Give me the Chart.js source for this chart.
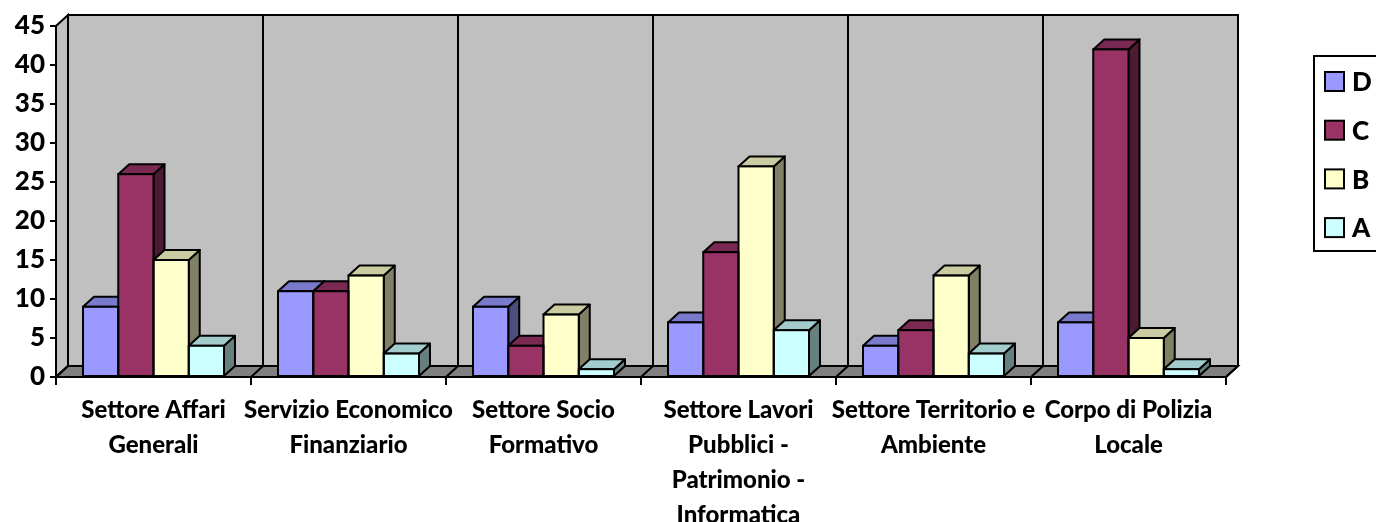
<!DOCTYPE html>
<html>
<head>
<meta charset="utf-8">
<script src="https://cdn.jsdelivr.net/npm/chart.js@4.4.1/dist/chart.umd.min.js"></script>
<style>
  html, body { margin: 0; padding: 0; background: #fff; }
  #wrap { width: 1376px; height: 522px; position: relative; }
</style>
</head>
<body>
<div id="wrap"><canvas id="chart" width="1376" height="522"></canvas></div>
<script>
// categorie (etichette asse x, già spezzate su più righe)
const categories = [
  ["Settore Affari", "Generali"],
  ["Servizio Economico", "Finanziario"],
  ["Settore Socio", "Formativo"],
  ["Settore Lavori", "Pubblici -", "Patrimonio -", "Informatica"],
  ["Settore Territorio e", "Ambiente"],
  ["Corpo di Polizia", "Locale"]
];

// serie
const seriesNames = ["D", "C", "B", "A"];
const valuesD = [9, 11, 9, 7, 4, 7];
const valuesC = [26, 11, 4, 16, 6, 42];
const valuesB = [15, 13, 8, 27, 13, 5];
const valuesA = [4, 3, 1, 6, 3, 1];
const seriesColors = ["#9999FF", "#993366", "#FFFFCC", "#CCFFFF"];

// asse y
const yMax = 45;
const yStep = 5;

const WALL_DX = 12, WALL_DY = 11;   // profondità pareti
const BAR_DX = 11, BAR_DY = 10;     // profondità barre

function shade(hex, k) {
  const n = parseInt(hex.slice(1), 16);
  const r = Math.round(((n >> 16) & 255) * k);
  const g = Math.round(((n >> 8) & 255) * k);
  const b = Math.round((n & 255) * k);
  return "rgb(" + r + "," + g + "," + b + ")";
}

function poly(ctx, pts, fill) {
  ctx.beginPath();
  ctx.moveTo(pts[0][0], pts[0][1]);
  for (let i = 1; i < pts.length; i++) ctx.lineTo(pts[i][0], pts[i][1]);
  ctx.closePath();
  if (fill) { ctx.fillStyle = fill; ctx.fill(); }
  ctx.stroke();
}

// pareti e pavimento 3D
const wallsPlugin = {
  id: "walls",
  beforeDraw(chart) {
    const ctx = chart.ctx;
    const a = chart.chartArea;
    const xs = chart.scales.x;
    const n = categories.length;
    const catW = (a.right - a.left) / n;
    ctx.save();
    ctx.strokeStyle = "#000";
    ctx.lineWidth = 2;
    ctx.lineJoin = "miter";
    // parete laterale
    poly(ctx, [[a.left, a.bottom], [a.left, a.top], [a.left + WALL_DX, a.top - WALL_DY], [a.left + WALL_DX, a.bottom - WALL_DY]], "#C0C0C0");
    // parete di fondo
    poly(ctx, [[a.left + WALL_DX, a.top - WALL_DY], [a.right + WALL_DX, a.top - WALL_DY], [a.right + WALL_DX, a.bottom - WALL_DY], [a.left + WALL_DX, a.bottom - WALL_DY]], "#C0C0C0");
    // pavimento
    poly(ctx, [[a.left, a.bottom], [a.right, a.bottom], [a.right + WALL_DX, a.bottom - WALL_DY], [a.left + WALL_DX, a.bottom - WALL_DY]], "#808080");
    // divisori categorie
    for (let i = 0; i <= n; i++) {
      const bx = xs.getPixelForValue(0) - catW / 2 + i * catW;
      ctx.beginPath();
      ctx.moveTo(bx, a.bottom);
      ctx.lineTo(bx + WALL_DX, a.bottom - WALL_DY);
      if (i > 0 && i < n) ctx.lineTo(bx + WALL_DX, a.top - WALL_DY);
      ctx.stroke();
    }
    ctx.restore();
  },
  beforeDatasetsDraw(chart) {
    // facce laterali e superiori, da sinistra a destra
    const ctx = chart.ctx;
    ctx.save();
    ctx.strokeStyle = "#000";
    ctx.lineWidth = 2;
    ctx.lineJoin = "round";
    for (let c = 0; c < categories.length; c++) {
      chart.data.datasets.forEach((ds, di) => {
        const el = chart.getDatasetMeta(di).data[c];
        const p = el.getProps(["x", "y", "base", "width"], true);
        const L = p.x - p.width / 2, R = p.x + p.width / 2;
        const top = p.y, bot = p.base;
        const col = seriesColors[di];
        poly(ctx, [[R, top], [R + BAR_DX, top - BAR_DY], [R + BAR_DX, bot - BAR_DY], [R, bot]], shade(col, 0.5));
        poly(ctx, [[L, top], [R, top], [R + BAR_DX, top - BAR_DY], [L + BAR_DX, top - BAR_DY]], shade(col, 0.8));
      });
    }
    ctx.restore();
  },
  afterDatasetsDraw(chart) {
    const ctx = chart.ctx;
    ctx.save();
    ctx.strokeStyle = "#000";
    ctx.lineWidth = 2;
    chart.data.datasets.forEach((ds, di) => {
      chart.getDatasetMeta(di).data.forEach(el => {
        const p = el.getProps(["x", "y", "base", "width"], true);
        ctx.strokeRect(p.x - p.width / 2, p.y, p.width, p.base - p.y);
      });
    });
    ctx.restore();
  },
  afterDraw(chart) {
    // legenda
    const ctx = chart.ctx;
    ctx.save();
    ctx.strokeStyle = "#000";
    ctx.lineWidth = 2;
    ctx.strokeRect(1314, 56, 80, 195);
    ctx.font = "900 26px Lato";
    ctx.textBaseline = "middle";
    ctx.textAlign = "left";
    chart.data.datasets.forEach((ds, i) => {
      const cy = 82 + i * 48.7;
      ctx.fillStyle = ds.backgroundColor;
      ctx.fillRect(1325, cy - 10, 19, 19);
      ctx.strokeRect(1325, cy - 10, 19, 19);
      ctx.fillStyle = "#000";
      ctx.fillText(ds.label, 1352, cy + 1);
    });
    ctx.restore();
  }
};

const ctx = document.getElementById("chart").getContext("2d");
new Chart(ctx, {
  type: "bar",
  data: {
    labels: categories,
    datasets: [
      { label: seriesNames[0], data: valuesD, backgroundColor: seriesColors[0] },
      { label: seriesNames[1], data: valuesC, backgroundColor: seriesColors[1] },
      { label: seriesNames[2], data: valuesB, backgroundColor: seriesColors[2] },
      { label: seriesNames[3], data: valuesA, backgroundColor: seriesColors[3] }
    ]
  },
  options: {
    responsive: false,
    animation: false,
    devicePixelRatio: 1,
    layout: { padding: { top: 26, right: 150, left: 0, bottom: 0 } },
    datasets: {
      bar: { categoryPercentage: 0.723, barPercentage: 1, borderWidth: 0 }
    },
    plugins: {
      legend: { display: false },
      tooltip: { enabled: false }
    },
    scales: {
      x: {
        afterFit(s) { s.height = 145; },
        grid: { drawOnChartArea: false, drawTicks: true, tickLength: 8, color: "#000", lineWidth: 2, offset: true },
        border: { display: true, color: "#000", width: 2 },
        ticks: {
          color: "#000",
          font: { family: "Lato", weight: "900", size: 24, lineHeight: "35px" },
          maxRotation: 0,
          autoSkip: false,
          padding: 8
        }
      },
      y: {
        min: 0,
        max: yMax,
        afterFit(s) { s.width = 56; },
        grid: { drawOnChartArea: false, drawTicks: true, tickLength: 6, color: "#000", lineWidth: 2 },
        border: { display: true, color: "#000", width: 2 },
        ticks: {
          stepSize: yStep,
          color: "#000",
          font: { family: "Lato", weight: "900", size: 26 },
          padding: 5
        }
      }
    }
  },
  plugins: [wallsPlugin]
});
</script>
</body>
</html>
